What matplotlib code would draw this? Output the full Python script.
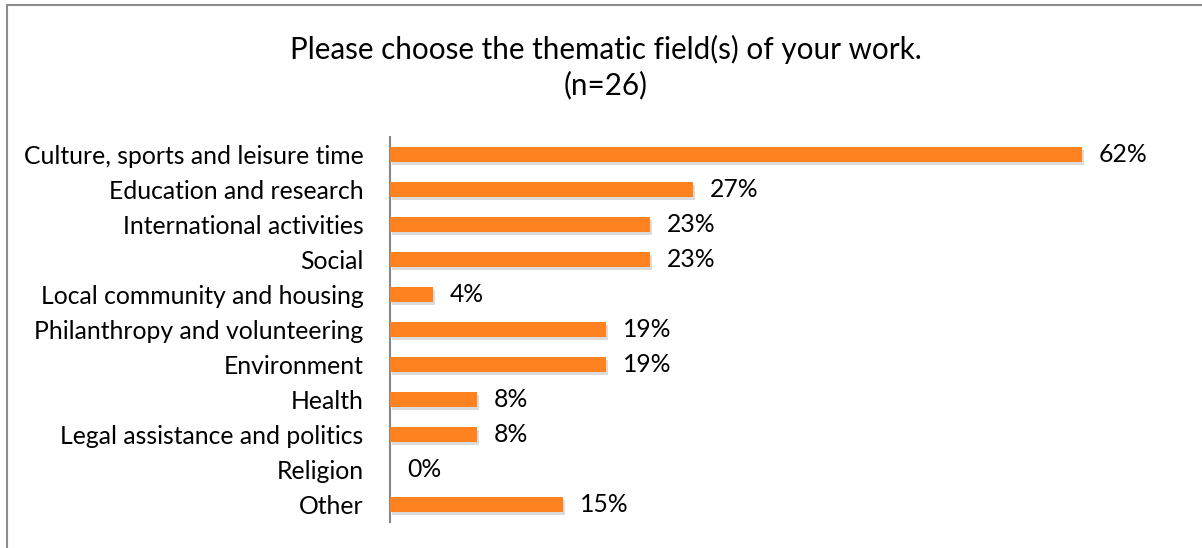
import matplotlib.pyplot as plt
import matplotlib.patheffects as pe
from matplotlib.patches import Rectangle

categories = [
    "Culture, sports and leisure time",
    "Education and research",
    "International activities",
    "Social",
    "Local community and housing",
    "Philanthropy and volunteering",
    "Environment",
    "Health",
    "Legal assistance and politics",
    "Religion",
    "Other",
]
shares = [61.5, 26.9, 23.1, 23.1, 3.8, 19.2, 19.2, 7.7, 7.7, 0.0, 15.4]
labels = ["62%", "27%", "23%", "23%", "4%", "19%", "19%", "8%", "8%", "0%", "15%"]

plt.rcParams["font.family"] = ["Lato", "DejaVu Sans"]

W, H = 1202, 548
fig = plt.figure(figsize=(W / 100, H / 100), dpi=100)

# axes placed in pixel terms of the reference
left, right, top, bottom = 390, 1177, 137, 522
ax = fig.add_axes([left / W, 1 - bottom / H, (right - left) / W, (bottom - top) / H])

orange = "#FF8221"
ypos = list(range(len(categories)))
bars = ax.barh(ypos, shares, height=0.43, color=orange, zorder=3)
for b in bars:
    b.set_path_effects([
        pe.SimplePatchShadow(offset=(1.5, -2), shadow_rgbFace="#9a9a9a", alpha=0.35),
        pe.Normal(),
    ])

for y, v, lab in zip(ypos, shares, labels):
    ax.text(v + 1.5, y, lab, va="center", ha="left", fontsize=17.8)

ax.set_xlim(0, (right - left) / 11.25)
ax.set_ylim(10.5, -0.5)
ax.set_yticks(ypos)
ax.set_yticklabels(categories, fontsize=17.8)
ax.tick_params(axis="y", length=0, pad=19)
ax.set_xticks([])
for s in ["top", "right", "bottom"]:
    ax.spines[s].set_visible(False)
ax.spines["left"].set_color("#868686")
ax.spines["left"].set_linewidth(1.5)

fig.text(606 / W, 1 - 49 / H, "Please choose the thematic field(s) of your work.",
         ha="center", va="center", fontsize=21.3)
fig.text(606 / W, 1 - 85 / H, "(n=26)", ha="center", va="center", fontsize=21.3)

# outer chart border, cut off at right and bottom as in the reference
fig.patches.append(Rectangle((6.5 / W, -0.1), 1.2, 1 - 5.5 / H + 0.1,
                             transform=fig.transFigure, fill=False,
                             edgecolor="#8c8c8c", linewidth=1.5))

fig.savefig("out.png", dpi=100)
